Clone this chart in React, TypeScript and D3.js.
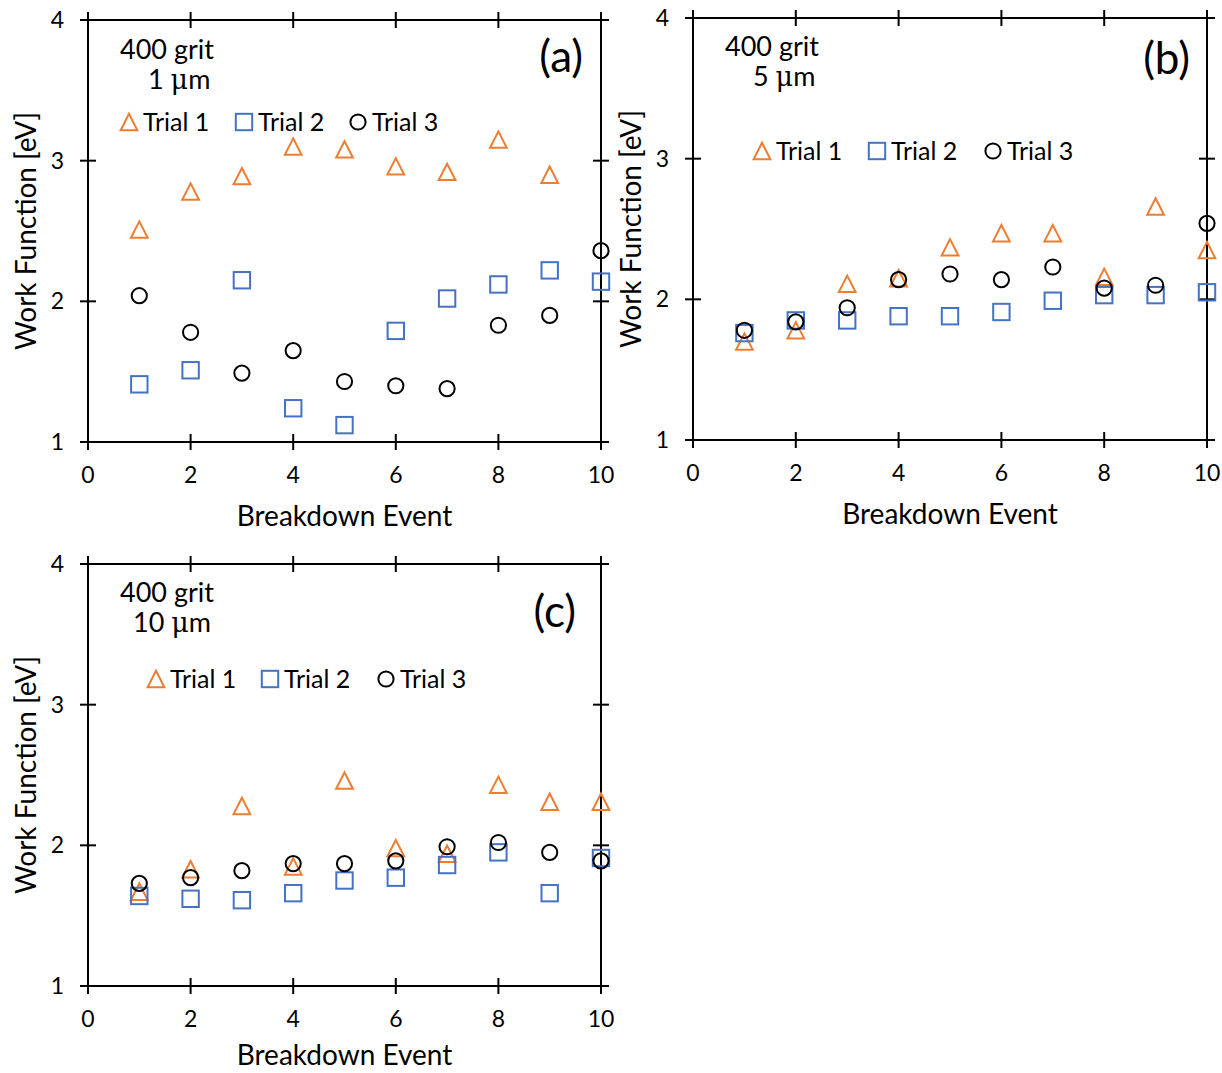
import React from "react";
import * as d3 from "d3";

// ---------- data ----------
const EVENTS = [1, 2, 3, 4, 5, 6, 7, 8, 9, 10];
const X_TICKS = [0, 2, 4, 6, 8, 10];
const Y_TICKS = [1, 2, 3, 4];
const TRIALS = ["Trial 1", "Trial 2", "Trial 3"];

// (a) 400 grit, 1 µm
const A_TRIAL1 = [2.51, 2.78, 2.89, 3.1, 3.08, 2.96, 2.92, 3.15, 2.9, null];
const A_TRIAL2 = [1.41, 1.51, 2.15, 1.24, 1.12, 1.79, 2.02, 2.12, 2.22, 2.14];
const A_TRIAL3 = [2.04, 1.78, 1.49, 1.65, 1.43, 1.4, 1.38, 1.83, 1.9, 2.36];

// (b) 400 grit, 5 µm
const B_TRIAL1 = [1.7, 1.78, 2.11, 2.15, 2.37, 2.47, 2.47, 2.16, 2.66, 2.35];
const B_TRIAL2 = [1.76, 1.85, 1.85, 1.88, 1.88, 1.91, 1.99, 2.03, 2.03, 2.05];
const B_TRIAL3 = [1.78, 1.84, 1.94, 2.14, 2.18, 2.14, 2.23, 2.08, 2.1, 2.54];

// (c) 400 grit, 10 µm
const C_TRIAL1 = [1.67, 1.83, 2.28, 1.85, 2.46, 1.98, 1.94, 2.43, 2.31, 2.31];
const C_TRIAL2 = [1.64, 1.62, 1.61, 1.66, 1.75, 1.77, 1.86, 1.95, 1.66, 1.91];
const C_TRIAL3 = [1.73, 1.77, 1.82, 1.87, 1.87, 1.89, 1.99, 2.02, 1.95, 1.89];

const X_TITLE = "Breakdown Event";
const Y_TITLE = "Work Function [eV]";

// ---------- styles / layout ----------
const FONT = "Lato, 'Open Sans', sans-serif";
const COLORS = ["#ED7D31", "#4472C4", "#000000"];
const SHAPES = ["triangle", "square", "circle"];
const SVG_H = 1073;

type PanelCfg = {
  left: number; top: number; width: number; height: number;
  series: (number | null)[][];
  grit: string; size: string; sizeDx: number; letter: string; letterDx: number; letterDy: number;
  legendDx: number[]; legendDy: number; annDy: number;
};

const PANELS: PanelCfg[] = [
  { left: 88, top: 20, width: 513, height: 422, series: [A_TRIAL1, A_TRIAL2, A_TRIAL3],
    grit: "400 grit", size: "1", sizeDx: 60, letter: "(a)", letterDx: 18, letterDy: 52,
    legendDx: [41, 156, 270], legendDy: 102, annDy: 0 },
  { left: 693, top: 18, width: 514, height: 422, series: [B_TRIAL1, B_TRIAL2, B_TRIAL3],
    grit: "400 grit", size: "5", sizeDx: 60, letter: "(b)", letterDx: 17, letterDy: 56,
    legendDx: [69, 184, 300], legendDy: 133, annDy: -1 },
  { left: 88, top: 564, width: 513, height: 422, series: [C_TRIAL1, C_TRIAL2, C_TRIAL3],
    grit: "400 grit", size: "10", sizeDx: 45, letter: "(c)", letterDx: 25, letterDy: 63,
    legendDx: [68, 182, 298], legendDy: 115, annDy: -1 },
];

function Marker({ shape, color, x, y }: { shape: string; color: string; x: number; y: number }) {
  const s = 8.2;
  const common = { fill: "none", stroke: color, strokeWidth: 2 };
  if (shape === "triangle") {
    const p = d3.path();
    p.moveTo(x, y - s);
    p.lineTo(x + s * 1.02, y + s);
    p.lineTo(x - s * 1.02, y + s);
    p.closePath();
    return <path d={p.toString()} {...common} strokeLinejoin="miter" />;
  }
  if (shape === "square") {
    return <rect x={x - s} y={y - s} width={2 * s} height={2 * s} {...common} />;
  }
  return <circle cx={x} cy={y} r={7.6} {...common} />;
}

function Panel({ cfg }: { cfg: PanelCfg }) {
  const x = d3.scaleLinear().domain([0, 10]).range([cfg.left, cfg.left + cfg.width]);
  const y = d3.scaleLinear().domain([1, 4]).range([cfg.top + cfg.height, cfg.top]);
  const T = 8;
  const L = cfg.left, R = cfg.left + cfg.width, Tp = cfg.top, B = cfg.top + cfg.height;
  const midX = (L + R) / 2, midY = (Tp + B) / 2;
  const xTitleY = Math.min(B + 84, SVG_H - 8);
  return (
    <g>
      {/* frame */}
      <rect x={L} y={Tp} width={cfg.width} height={cfg.height} fill="none" stroke="#000" strokeWidth={2} />
      {/* x ticks (bottom & top, crossing) */}
      {X_TICKS.map((t) => (
        <g key={"xt" + t}>
          <line x1={x(t)} x2={x(t)} y1={B - T} y2={B + T} stroke="#000" strokeWidth={2} />
          <line x1={x(t)} x2={x(t)} y1={Tp - T} y2={Tp + T} stroke="#000" strokeWidth={2} />
          <text x={x(t)} y={B + 41} textAnchor="middle" fontSize={23} fontFamily={FONT}>{t}</text>
        </g>
      ))}
      {Y_TICKS.map((t) => (
        <g key={"yt" + t}>
          <line x1={L - T} x2={L + T} y1={y(t)} y2={y(t)} stroke="#000" strokeWidth={2} />
          <line x1={R - T} x2={R + T} y1={y(t)} y2={y(t)} stroke="#000" strokeWidth={2} />
          <text x={L - 24} y={y(t) + 8} textAnchor="end" fontSize={23} fontFamily={FONT}>{t}</text>
        </g>
      ))}
      <text x={midX} y={xTitleY} textAnchor="middle" fontSize={28} fontFamily={FONT}>{X_TITLE}</text>
      <text transform={`translate(${L - 52},${midY}) rotate(-90)`} textAnchor="middle" fontSize={28} fontFamily={FONT}>{Y_TITLE}</text>

      {/* annotation */}
      <text x={L + 32} y={Tp + 39 + cfg.annDy} fontSize={27} fontFamily={FONT}>{cfg.grit}</text>
      <text x={L + cfg.sizeDx} y={Tp + 69 + cfg.annDy} fontSize={27} fontFamily={FONT}>
        {cfg.size + " "}
        <tspan fontFamily="'DejaVu Serif', 'Liberation Serif', serif">μ</tspan>
        <tspan>m</tspan>
      </text>
      <text x={R - cfg.letterDx} y={Tp + cfg.letterDy} textAnchor="end" fontSize={44} fontFamily={FONT}>{cfg.letter}</text>

      {/* legend */}
      {TRIALS.map((name, i) => (
        <g key={name}>
          <Marker shape={SHAPES[i]} color={COLORS[i]} x={L + cfg.legendDx[i]} y={Tp + cfg.legendDy} />
          <text x={L + cfg.legendDx[i] + 14} y={Tp + cfg.legendDy + 9} fontSize={25} fontFamily={FONT}>{name}</text>
        </g>
      ))}

      {/* series */}
      {cfg.series.map((vals, si) => (
        <g key={"s" + si}>
          {vals.map((v, i) =>
            v == null ? null : (
              <Marker key={i} shape={SHAPES[si]} color={COLORS[si]} x={x(EVENTS[i])} y={y(v)} />
            )
          )}
        </g>
      ))}
    </g>
  );
}

export default function App() {
  return (
    <div style={{ position: "absolute", left: 0, top: 0 }}>
      <svg width={1222} height={SVG_H} style={{ display: "block", background: "#fff" }}>
        <rect width={1222} height={SVG_H} fill="#fff" />
        {PANELS.map((p, i) => (
          <Panel key={i} cfg={p} />
        ))}
      </svg>
    </div>
  );
}
